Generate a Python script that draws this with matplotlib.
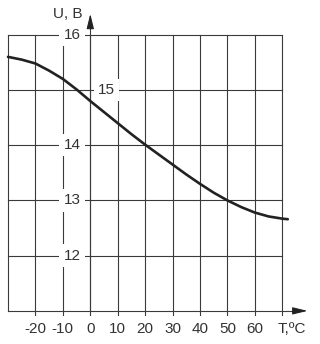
import matplotlib
matplotlib.use("Agg")
import matplotlib.pyplot as plt

# Data
temps = [-30, -25, -20, -15, -10, -5, 0, 5, 10, 15, 20, 25, 30, 35, 40, 45, 50, 55, 60, 65, 70, 72]
volts = [15.60, 15.55, 15.48, 15.35, 15.20, 15.01, 14.80, 14.60, 14.40, 14.20, 14.01, 13.83,
         13.65, 13.47, 13.30, 13.14, 13.00, 12.88, 12.78, 12.71, 12.67, 12.66]
x_ticks = [-20, -10, 0, 10, 20, 30, 40, 50, 60]
x_grid = [-30, -20, -10, 0, 10, 20, 30, 40, 50, 60, 70]
y_ticks = [12, 13, 14, 15, 16]
x_label = "T,ºC"
y_label = "U, B"

plt.rcParams['font.family'] = ['Liberation Sans', 'DejaVu Sans']
fig = plt.figure(figsize=(3.2, 3.44), dpi=100)
ax = fig.add_axes([0, 0, 1, 1])
ax.set_xlim(-32.92, 83.74)
ax.set_ylim(10.40, 16.63)
ax.axis('off')

gc = '#3a3a3a'
lw = 0.8
tc = '#333333'

# grid
for t in x_grid:
    ax.plot([t, t], [10.93 if t != -30 else 11, 16], color=gc, lw=lw, zorder=1)
for u in y_ticks:
    ax.plot([x_grid[0], x_grid[-1]], [u, u], color=gc, lw=lw, zorder=1)

# axes with arrows
ax.plot([-30, 77], [11, 11], color=gc, lw=lw, zorder=2)
ax.annotate('', xy=(80.2, 11), xytext=(75.5, 11),
            arrowprops=dict(arrowstyle='-|>,head_length=0.9,head_width=0.22', color='#222222', lw=0.8))
ax.plot([0, 0], [11, 16.25], color=gc, lw=lw, zorder=2)
ax.annotate('', xy=(0, 16.43), xytext=(0, 16.22),
            arrowprops=dict(arrowstyle='-|>,head_length=0.9,head_width=0.22', color='#222222', lw=0.8))

# curve
ax.plot(temps, volts, color='#222222', lw=1.9, solid_capstyle='round', solid_joinstyle='round', zorder=4)

# y tick labels (on the axis, with white background)
for u in y_ticks:
    xpos = 5.9 if u == 15 else -6.6
    ax.text(xpos, u, str(u), ha='center', va='center', fontsize=11, color=tc, zorder=3,
            bbox=dict(boxstyle='square,pad=0.28', fc='white', ec='none'))

# x tick labels
for t in x_ticks:
    ax.text(t, 10.68, str(t), ha='center', va='center', fontsize=11, color=tc)
ax.text(73.5, 10.68, x_label, ha='center', va='center', fontsize=11, color=tc)
ax.text(-8.3, 16.38, y_label, ha='center', va='center', fontsize=11, color=tc)

fig.savefig('out.png', dpi=100, facecolor='white')
